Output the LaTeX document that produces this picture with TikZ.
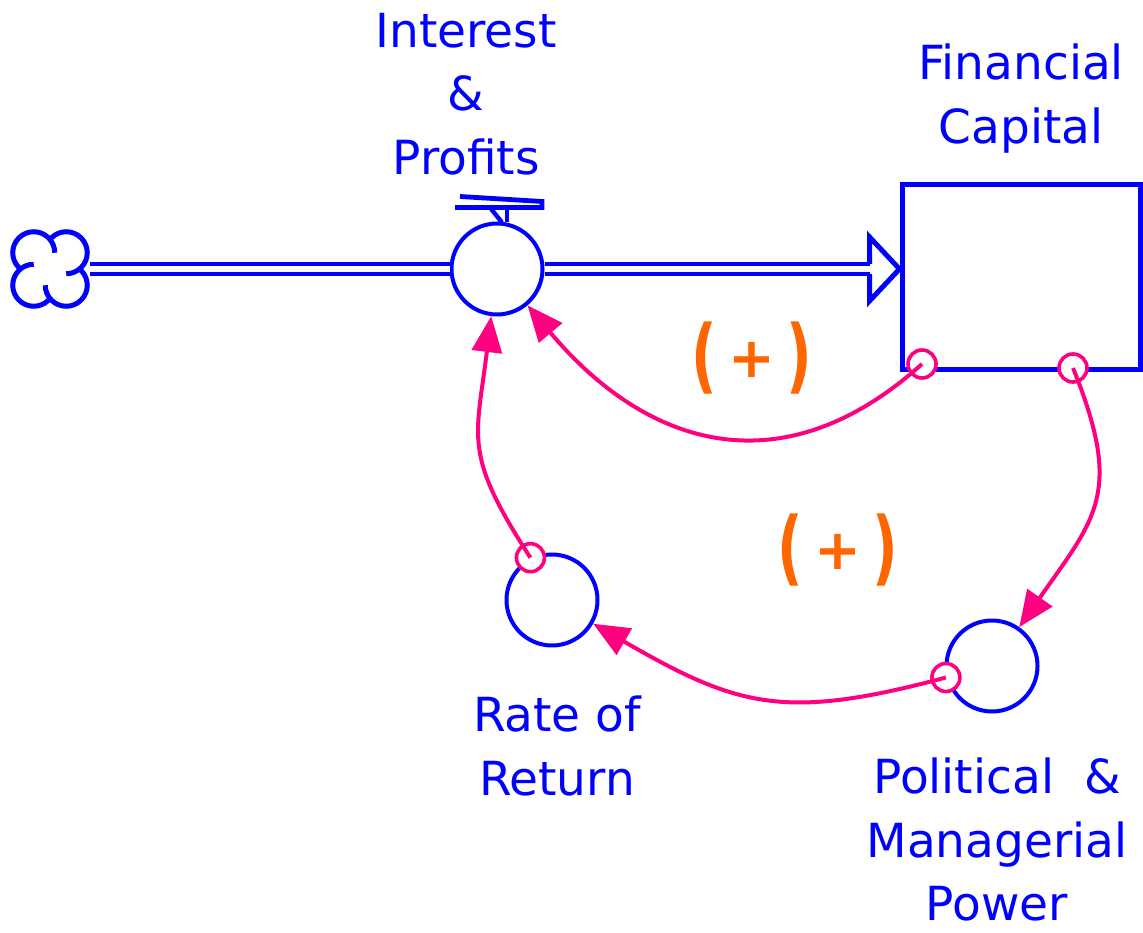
\documentclass[tikz,border=0pt]{standalone}
\usepackage{fontspec}
\setmainfont{DejaVu Sans}
\usepackage{graphicx}
\usetikzlibrary{positioning,arrows.meta}

\definecolor{simblue}{RGB}{0,0,255}
\definecolor{linkpink}{RGB}{255,0,128}
\definecolor{signorange}{RGB}{255,102,0}

% stretched brackets for the loop polarity marks
\newcommand{\tallparen}[1]{\raisebox{-0.11em}{\scalebox{1}[1.45]{#1}}}
\newcommand{\posloop}{\tallparen{(}\hspace{0.2em}+\hspace{0.2em}\tallparen{)}}

\tikzset{
  stock/.style={draw=simblue, line width=2.5pt, rectangle, minimum width=119pt, minimum height=92.5pt, inner sep=0pt},
  aux/.style={draw=simblue, line width=2pt, circle, minimum size=45.5pt, inner sep=0pt},
  pipe/.style={draw=simblue, double, double distance=3pt, line width=2pt},
  lbl/.style={text=simblue, align=center, inner sep=0pt, font=\fontsize{23.5pt}{31.75pt}\selectfont},
  link/.style={draw=linkpink, line width=2pt, -{Triangle[length=18pt,width=15pt]}},
  tap/.style={draw=linkpink, line width=1.8pt, fill=white},
  loopsign/.style={text=signorange, inner sep=0pt, font=\fontsize{28pt}{30pt}\selectfont\bfseries},
}

\begin{document}
\begin{tikzpicture}[x=0.5pt,y=0.5pt]
    \useasboundingbox (0,0) rectangle (1143,932);

    % stock, flow valve and auxiliaries
    \node (cloud) [minimum size=40pt, inner sep=0pt] at (50,663) {};
    \node (valve) [aux] at (497,663) {};
    \node (stock) [stock] at (1021,654.5) {};
    \node (rate) [aux] at (552,332) {};
    \node (power) [aux] at (992,266) {};

    \node (flowname) [lbl, above=23pt of valve, xshift=-15.5pt] {Interest\\\&\\Profits};
    \node (stockname) [lbl, above=14.5pt of stock] {Financial\\Capital};
    \node (ratename) [lbl, below=24pt of rate, xshift=2.5pt] {Rate of\\Return};
    \node (powername) [lbl, below=22pt of power, xshift=2.5pt] {Political\ \ \&\\Managerial\\Power};

    % source cloud
    \foreach \a in {45,135,225,315}
        \draw[simblue, line width=2.5pt] (cloud) ++(\a:23) ++(\a+90:21)
            arc[start angle=\a+90, end angle=\a-135, radius=21];

    % pipes
    \coordinate (inlet) at ([xshift=-15pt]stock.west |- valve.east);
    \draw[pipe] (cloud.east) -- (valve.west);
    \draw[pipe] (valve.east) -- (inlet);
    \draw[simblue, line width=2.5pt, miter limit=20]
        ([yshift=2.5pt]inlet) -- ([yshift=16pt]inlet) -- (stock.west |- valve.east)
        -- ([yshift=-16pt]inlet) -- ([yshift=-2.5pt]inlet);

    % valve handle
    \draw[simblue, line width=2.4pt]
        ([shift={(-37,25)}]valve.north) -- ([shift={(45,20)}]valve.north)
        -- ([shift={(45,14)}]valve.north) -- ([shift={(-42,14)}]valve.north);
    \draw[simblue, line width=2.2pt] ([shift={(10,14)}]valve.north) -- ([shift={(10,-1)}]valve.north);
    \draw[simblue, line width=2.2pt] ([shift={(-7,14)}]valve.north) -- ([shift={(5,-1)}]valve.north);

    % causal links
    \coordinate (fcA) at (922,568);
    \coordinate (fcB) at (1073,564);
    \foreach \p in {fcA,fcB,power.194,rate.117}
        \draw[tap] (\p) circle (7pt);

    \draw[link] (fcA) to[out=222, in=-50, looseness=1.2] (valve);
    \draw[link] (fcB) to[out=-68, in=55, looseness=1.3] (power);
    \draw[link] (power.194) to[out=195, in=-30, looseness=1.2] (rate);
    \draw[link] (rate.117) to[out=123, in=-97, looseness=1.3] (valve);

    \node (loopA) [loopsign] at (752,574) {\posloop};
    \node (loopB) [loopsign] at (838,382) {\posloop};
\end{tikzpicture}
\end{document}
